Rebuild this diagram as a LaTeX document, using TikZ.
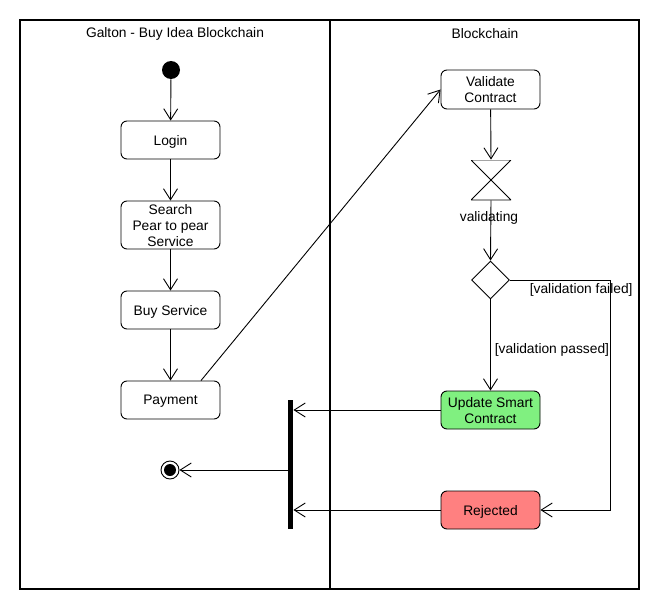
\documentclass[tikz,border=0pt]{standalone}
\usepackage{fontspec}
\setmainfont{Liberation Sans}
\usetikzlibrary{arrows.meta,shapes.geometric}
\begin{document}
\begin{tikzpicture}[x=1pt,y=-1pt, line width=0.9pt,
  font=\fontsize{13.8}{16}\selectfont,
  act/.style={draw, rounded corners=6pt, minimum width=99pt, minimum height=38pt, align=center, inner sep=1pt, text depth=0pt},
  flow/.style={-{Straight Barb[length=11pt,width=14pt]}},
  lane/.style={line width=1.6pt}]
\useasboundingbox (0,0) rectangle (670,610);
\draw[lane] (20,20) rectangle (639,589);
\draw[lane] (330,20) -- (330,589);
\node (lanea) at (175,34){Galton - Buy Idea Blockchain};
\node (laneb) at (485,34){Blockchain};
\node[circle, fill, minimum size=18pt, inner sep=0pt] (start) at (171,70){};
\node[act] (login) at (170.5,140){Login};
\node[act, minimum height=48pt] (search) at (170.5,225){Search\\Pear to pear\\Service};
\node[act] (buy) at (170.5,310){Buy Service};
\node[act] (pay) at (170.5,400){Payment};
\node[circle, draw, minimum size=18pt, inner sep=0pt, path picture={\fill (path picture bounding box.center) circle (6pt);}] (end) at (170,470){};
\draw[flow](start) -- (login);
\draw[flow](login) -- (search);
\draw[flow](search) -- (buy);
\draw[flow](buy) -- (pay);
\node[act, minimum height=39pt] (valid) at (490.5,89.5){Validate\\Contract};
\node[minimum width=40pt, minimum height=40pt, inner sep=0pt,
  path picture={\draw (path picture bounding box.north west) -- (path picture bounding box.north east) -- (path picture bounding box.south west) -- (path picture bounding box.south east) -- cycle;}] (wait) at (491,180){};
\node (waitlbl) at (489,218){validating};
\node[diamond, draw, minimum size=38pt, inner sep=0pt] (check) at (490.5,280){};
\node[act, fill={rgb,255:red,128;green,240;blue,128}] (update) at (490.5,410){Update Smart\\Contract};
\node[act, fill={rgb,255:red,255;green,128;blue,128}] (reject) at (490.5,510){Rejected};
\node[fill, minimum width=5pt, minimum height=129pt, inner sep=0pt] (join) at (290.5,464.5){};
\coordinate (bend) at (610,280);
\draw[flow]([xshift=30.5pt]pay.north) -- (valid.west);
\draw[flow](valid) -- (wait.north);
\draw[flow](wait.south) -- (check.north);
\draw[flow](check.south) -- (update.north);
\draw[flow](check.east) -- (bend) |- (reject.east);
\draw[flow](update.west) -- (join.east |- update.west);
\draw[flow](reject.west) -- (join.east |- reject.west);
\draw[flow](join.west |- end) -- (end.east);
\node[anchor=west] (failed) at (526,290){[validation failed]};
\node[anchor=west] (passed) at (491,350){[validation passed]};
\end{tikzpicture}
\end{document}
